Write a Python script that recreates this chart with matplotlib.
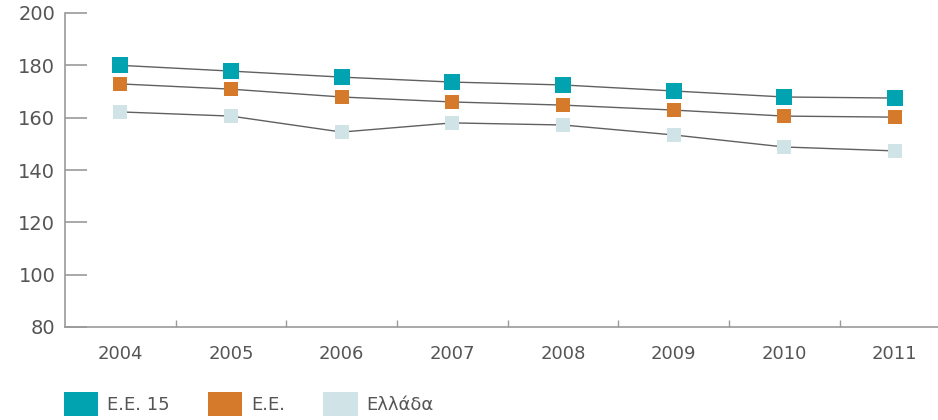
import numpy
import matplotlib

matplotlib.use("Agg")
import matplotlib.pyplot as plt
from matplotlib.patches import Patch

years = ["2004", "2005", "2006", "2007", "2008", "2009", "2010", "2011"]
eu15 = [180.0, 177.8, 175.5, 173.6, 172.5, 170.2, 167.9, 167.5]
eu = [172.9, 170.9, 167.9, 166.0, 164.8, 162.9, 160.6, 160.2]
greece = [162.2, 160.6, 154.5, 158.0, 157.2, 153.4, 148.8, 147.3]
series_names = ["Ε.Ε. 15", "Ε.Ε.", "Ελλάδα"]
y_ticks = [80, 100, 120, 140, 160, 180, 200]

colors = ["#00a3af", "#d5792a", "#d0e3e7"]
text_color = "#555555"
axis_color = "#9a9a9a"

fig = plt.figure(figsize=(9.38, 4.2), dpi=100)
ax = fig.add_axes([65 / 938, 1 - 327 / 420, 1 - 65 / 938, 314 / 420])

x = numpy.arange(len(years))
sizes = [11.5, 10.3, 10.3]
for vals, col, ms in zip([eu15, eu, greece], colors, sizes):
    ax.plot(x, vals, color="#606060", lw=1.0, zorder=2)
    ax.plot(x, vals, ls="none", marker="s", ms=ms, color=col,
            markeredgewidth=0, zorder=3)

ax.set_xlim(-0.5, 7.39)
ax.set_ylim(80, 200)

ax.set_yticks(y_ticks)
ax.set_yticklabels([str(v) for v in y_ticks])
ax.set_xticks(x)
ax.set_xticklabels(years)
ax.set_xticks(x[:-1] + 0.5, minor=True)

for s in ["top", "right"]:
    ax.spines[s].set_visible(False)
for s in ["left", "bottom"]:
    ax.spines[s].set_color(axis_color)
    ax.spines[s].set_linewidth(1.2)

ax.tick_params(axis="y", direction="in", length=16, width=1.2, color=axis_color,
               pad=7, labelsize=14, labelcolor=text_color)
ax.tick_params(axis="x", which="major", length=0, pad=13,
               labelsize=13, labelcolor=text_color)
ax.tick_params(axis="x", which="minor", direction="in", length=5, width=1,
               color=axis_color)

handles = [Patch(facecolor=c, edgecolor="none") for c in colors]
fig.legend(handles, series_names, loc="lower left", bbox_to_anchor=(0.051, -0.028),
           ncol=3, frameon=False, fontsize=13, labelcolor=text_color,
           handlelength=1.9, handleheight=1.6, handletextpad=0.5,
           columnspacing=2.1)

fig.savefig("out.png", dpi=100)
